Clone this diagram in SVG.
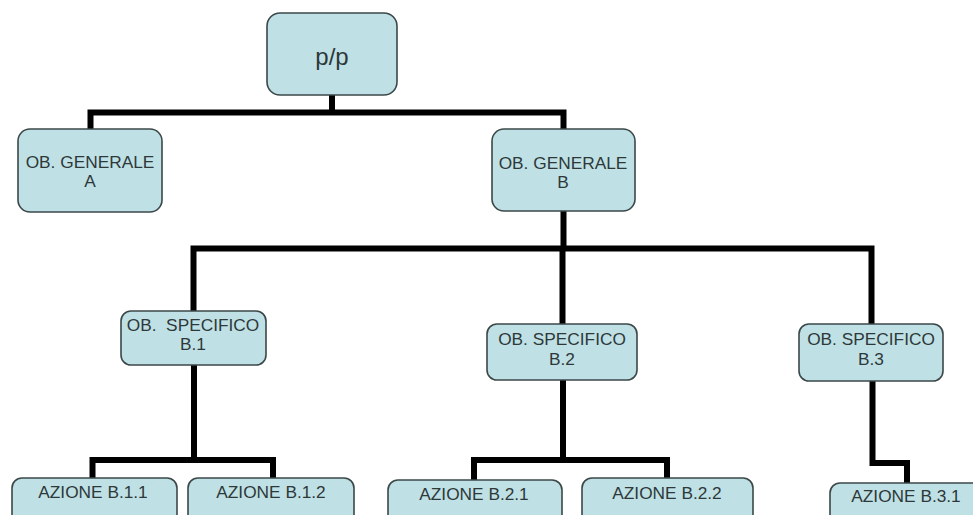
<svg xmlns="http://www.w3.org/2000/svg" width="973" height="515" viewBox="0 0 973 515">
<style>
.box{fill:#bfe1e6;stroke:#3c4848;stroke-width:1.6}
.t{font-family:"Liberation Sans",Arial,sans-serif;font-size:17.3px;fill:#2e3838;text-anchor:middle}
.big{font-size:24px}
.c{fill:none;stroke:#000;stroke-width:6;stroke-linejoin:miter;stroke-linecap:butt}
</style>
<rect width="973" height="515" fill="#fff"/>
<g id="connectors">
<path class="c" d="M332 95V112.5M90.5 129V112.5H563.5V129"/>
<path class="c" d="M563.5 211V248.5M193.5 311V248.5H871.5V324M562.5 248.5V324"/>
<path class="c" d="M194 365V460M92.5 478V460H273V478"/>
<path class="c" d="M563 380V460M474 480V460H667V478"/>
<path class="c" d="M872.5 381V463H907V483"/>
</g>
<g id="pp"><rect class="box" x="267" y="13" width="130" height="82" rx="13"/><text class="t big" x="332" y="65">p/p</text></g>
<g id="obA"><rect class="box" x="18" y="129" width="144" height="83" rx="12"/><text class="t" x="90" y="168">OB. GENERALE</text><text class="t" x="90" y="187">A</text></g>
<g id="obB"><rect class="box" x="492" y="129" width="143" height="82" rx="12"/><text class="t" x="563" y="169">OB. GENERALE</text><text class="t" x="563" y="188">B</text></g>
<g id="spB1"><rect class="box" x="121" y="311" width="145" height="54" rx="10"/><text class="t" x="193" y="331" xml:space="preserve">OB.  SPECIFICO</text><text class="t" x="193" y="350">B.1</text></g>
<g id="spB2"><rect class="box" x="487" y="324" width="150" height="56" rx="10"/><text class="t" x="562" y="345">OB. SPECIFICO</text><text class="t" x="562" y="365">B.2</text></g>
<g id="spB3"><rect class="box" x="799" y="324" width="144" height="57" rx="10"/><text class="t" x="871" y="345">OB. SPECIFICO</text><text class="t" x="871" y="365">B.3</text></g>
<g id="azB11"><rect class="box" x="12" y="478" width="165" height="60" rx="10"/><text class="t" x="93" y="498">AZIONE B.1.1</text></g>
<g id="azB12"><rect class="box" x="188" y="478" width="166" height="60" rx="10"/><text class="t" x="271" y="498">AZIONE B.1.2</text></g>
<g id="azB21"><rect class="box" x="388" y="480" width="174" height="60" rx="10"/><text class="t" x="474" y="500">AZIONE B.2.1</text></g>
<g id="azB22"><rect class="box" x="582" y="478" width="171" height="60" rx="10"/><text class="t" x="667" y="499">AZIONE B.2.2</text></g>
<g id="azB31"><rect class="box" x="830" y="483" width="152" height="60" rx="10"/><text class="t" x="906" y="502">AZIONE B.3.1</text></g>
</svg>
